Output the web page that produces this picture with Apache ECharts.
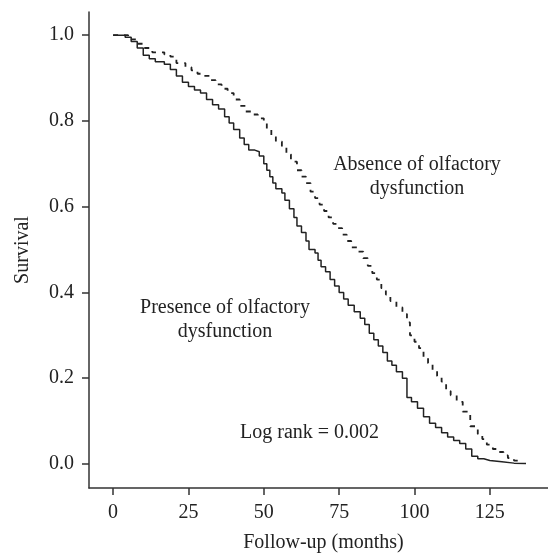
<!DOCTYPE html>
<html>
<head>
<meta charset="utf-8">
<script src="https://cdn.jsdelivr.net/npm/echarts@6/dist/echarts.min.js"></script>
<style>html,body{margin:0;padding:0;background:#fff}#c{width:548px;height:554px}</style>
</head>
<body>
<div id="c"></div>
<script>
// Data
var xTicks = [0, 25, 50, 75, 100, 125];
var yTicks = [0.0, 0.2, 0.4, 0.6, 0.8, 1.0];

var presenceMonths = [0,4,6,8,10,12,14,17,19,21,23,25,27,29,31,33,35,37,38.5,40,42,43.5,45,47,48.5,50,51,52,53,54,56,57,58.5,60,61,62.5,64,65,67,68,69,70.5,72,73.5,75,76.5,78,80,82,83.5,85,86.5,88,89.5,91,92.5,94,96,97.5,99,101,103,105,107,109,111,113,115,117,119,121,123,125,129,133,137];
var presenceSurv = [1.0,0.995,0.985,0.97,0.953,0.945,0.938,0.932,0.92,0.905,0.89,0.88,0.872,0.865,0.85,0.838,0.828,0.81,0.795,0.78,0.76,0.745,0.732,0.728,0.718,0.70,0.685,0.67,0.655,0.642,0.632,0.615,0.595,0.575,0.555,0.54,0.52,0.50,0.492,0.475,0.46,0.448,0.43,0.415,0.40,0.385,0.37,0.355,0.34,0.325,0.305,0.29,0.275,0.26,0.24,0.23,0.215,0.20,0.155,0.145,0.13,0.11,0.095,0.085,0.073,0.063,0.055,0.048,0.035,0.018,0.012,0.008,0.005,0.002,0.001,0.0];

var absenceMonths = [0,5,8,10,13,17,19,21,24,26,28,30,32,34,36,38,40,42,44,46,48,50,51,52.5,54,56,57.5,59,61,62.5,64,65.5,67,68.5,70,71.5,73,74.5,76,77.5,79,81,83,84.5,86,87.5,89,90.5,92,94,96,97.5,98.5,100,101.5,103,104.5,106,107.5,109,110.5,112,114,116,118.5,121,122.5,124,126,127.5,129.5,131,133,134.5];
var absenceSurv = [1.0,0.99,0.98,0.97,0.96,0.955,0.95,0.935,0.925,0.918,0.91,0.905,0.895,0.885,0.875,0.865,0.85,0.835,0.822,0.815,0.806,0.795,0.78,0.765,0.752,0.738,0.722,0.705,0.685,0.67,0.655,0.635,0.62,0.605,0.59,0.575,0.56,0.55,0.535,0.52,0.505,0.495,0.48,0.462,0.445,0.43,0.41,0.395,0.38,0.365,0.35,0.33,0.30,0.285,0.27,0.25,0.235,0.218,0.205,0.192,0.17,0.16,0.145,0.122,0.088,0.07,0.058,0.045,0.035,0.028,0.02,0.014,0.008,0.002];

var labelAbsence = "Absence of olfactory\ndysfunction";
var labelPresence = "Presence of olfactory\ndysfunction";
var labelLogRank = "Log rank = 0.002";

function pairs(xs, ys) { return xs.map(function (x, i) { return [x, ys[i]]; }); }

var FONT = "'Liberation Serif','DejaVu Serif',serif";
var TXT = '#222';
var chart = echarts.init(document.getElementById('c'));
chart.setOption({
  animation: false,
  backgroundColor: '#fff',
  grid: { left: 89, right: 0, top: 12, bottom: 66, containLabel: false, outerBoundsMode: 'none' },
  xAxis: {
    type: 'value', min: -8, max: 144.3,
    name: 'Follow-up (months)', nameLocation: 'middle', nameGap: 45,
    nameTextStyle: { fontFamily: FONT, fontSize: 20, color: TXT, padding: [0, 0, 0, 10] },
    axisLine: { show: true, onZero: false, lineStyle: { color: '#333', width: 1.5 } },
    axisTick: { show: true, length: 7, customValues: xTicks, lineStyle: { color: '#333', width: 1.5 } },
    axisLabel: { customValues: xTicks, fontFamily: FONT, fontSize: 20, color: TXT, margin: 15 },
    splitLine: { show: false }
  },
  yAxis: {
    type: 'value', min: -0.056, max: 1.054,
    name: 'Survival', nameLocation: 'middle', nameGap: 56,
    nameTextStyle: { fontFamily: FONT, fontSize: 20, color: TXT },
    axisLine: { show: true, onZero: false, lineStyle: { color: '#333', width: 1.5 } },
    axisTick: { show: true, length: 7, customValues: yTicks, lineStyle: { color: '#333', width: 1.5 } },
    axisLabel: { customValues: yTicks, fontFamily: FONT, fontSize: 20, color: TXT, margin: 15,
      formatter: function (v) { return v.toFixed(1); } },
    splitLine: { show: false }
  },
  series: [
    { name: 'Absence of olfactory dysfunction', type: 'line', step: 'end', showSymbol: false, symbol: 'none',
      data: pairs(absenceMonths, absenceSurv),
      lineStyle: { color: '#222', width: 1.8, type: [5, 6] } },
    { name: 'Presence of olfactory dysfunction', type: 'line', step: 'end', showSymbol: false, symbol: 'none',
      data: pairs(presenceMonths, presenceSurv),
      lineStyle: { color: '#222', width: 1.5 } }
  ],
  graphic: [
    { type: 'text', left: 330, top: 153, style: { text: labelAbsence, font: '20px ' + FONT, fill: TXT, align: 'center', lineHeight: 24, textAlign: 'center', width: 174 } },
    { type: 'text', left: 137, top: 296, style: { text: labelPresence, font: '20px ' + FONT, fill: TXT, align: 'center', lineHeight: 24, textAlign: 'center', width: 176 } },
    { type: 'text', left: 240, top: 423, style: { text: labelLogRank, font: '20px ' + FONT, fill: TXT } }
  ]
});
</script>
</body>
</html>
